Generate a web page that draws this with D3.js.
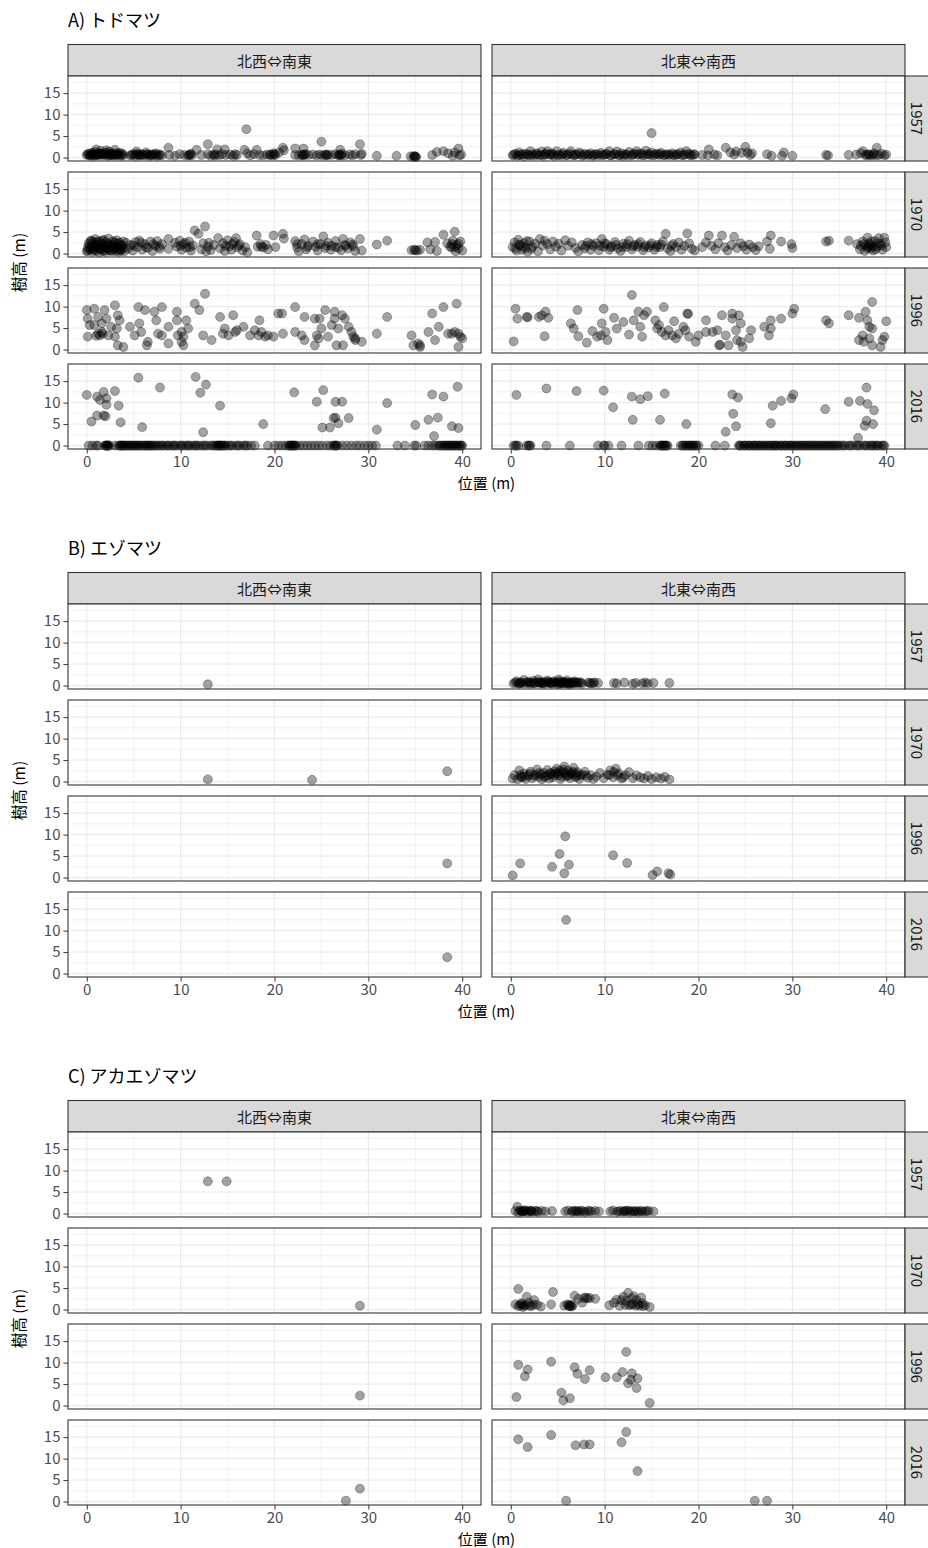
<!DOCTYPE html>
<html>
<head>
<meta charset="utf-8">
<script src="https://cdn.jsdelivr.net/npm/d3@7"></script>
<style>
  body { margin: 0; background: #fff; }
  svg { display: block; font-family: "Noto Sans CJK JP", "Noto Sans", sans-serif; }
  .axis text { fill: #4d4d4d; font-size: 15px; }
  .axis line { stroke: #333; }
</style>
</head>
<body>
<svg id="chart"></svg>
<script>
// facet labels
const speciesNames = ['A) トドマツ', 'B) エゾマツ', 'C) アカエゾマツ'];
const directions = ['北西⇔南東', '北東⇔南西'];
const years = ['1957', '1970', '1996', '2016'];
const xTicks = [0, 10, 20, 30, 40];
const yTicks = [0, 5, 10, 15];

// A) トドマツ  [位置, 樹高]
const todoNW1957 = [[0.0,0.6],[0.2,0.9],[0.3,0.5],[0.5,1.1],[0.6,0.7],[0.8,0.4],[0.9,1.3],[1.0,0.8],[1.1,0.5],[1.3,1.0],[1.4,0.6],[1.5,1.6],[1.7,0.8],[1.8,0.5],[2.0,1.1],[2.1,0.7],[2.3,0.4],[2.4,1.4],[2.5,0.9],[2.7,0.6],[2.9,1.0],[3.0,1.8],[3.1,0.5],[3.3,0.8],[3.5,0.6],[3.7,1.0],[3.9,0.5],[1.0,1.9],[2.1,1.7],
  [0.1,0.8],[0.4,0.6],[0.7,1.0],[0.9,0.6],[1.2,0.7],[1.6,1.0],[1.9,0.7],[2.2,1.0],[2.6,0.5],[2.8,0.8],[3.2,0.7],[3.4,1.1],[3.6,0.4],[3.8,0.8],[0.5,0.4],[1.4,0.9],[2.4,0.6],[3.0,0.6],
  [4.6,0.5],[4.9,0.8],[5.2,0.4],[5.4,0.9],[5.7,0.6],[5.9,0.8],[6.2,0.5],[6.5,0.7],[6.7,0.4],[7.0,0.8],[7.3,0.6],[7.5,0.4],[7.8,0.7],[8.0,0.5],[5.3,1.4],[6.3,1.2],[7.4,1.0],
  [4.8,0.6],[5.1,0.7],[5.6,0.5],[6.0,0.6],[6.4,0.8],[6.9,0.5],[7.2,0.7],[7.7,0.6],[5.5,0.7],[6.8,0.6],
  [8.7,2.3],[8.8,0.6],[9.4,0.4],[9.9,0.8],[10.4,0.6],[10.8,0.5],[11.0,0.7],[11.1,0.9],[10.9,0.6],[11.2,0.5],[11.7,1.8],[12.2,0.6],[12.9,3.1],[12.9,0.8],[13.2,0.4],[13.5,0.7],[13.6,0.5],[13.8,0.7],[13.9,1.9],[14.1,0.5],[14.4,0.8],[14.7,1.9],[14.8,0.6],[15.3,0.7],[15.6,0.4],[15.8,0.8],[16.0,0.6],[16.8,1.8],[17.0,6.6],[17.1,1.0],[17.4,0.5],[17.8,0.8],[18.1,1.8],[18.4,0.6],[18.8,0.5],[19.2,0.7],[19.5,0.6],[19.6,0.7],[19.8,0.5],[20.0,0.8],[20.1,0.6],[19.9,1.0],[20.5,1.2],[20.9,2.3],[21.0,1.7],
  [22.2,2.1],[22.2,0.6],[22.6,0.5],[22.9,0.7],[23.0,0.6],[23.1,2.1],[23.1,0.5],[23.2,0.7],[23.3,0.8],[23.6,0.6],[24.1,0.7],[24.5,0.5],[24.8,0.7],[25.0,3.7],[25.1,0.5],[25.4,0.7],[25.5,0.6],[25.6,0.5],[25.7,0.7],[26.1,0.6],[26.5,0.8],[26.8,0.5],[26.9,0.7],[27.0,1.8],[27.0,0.6],[27.1,0.5],[27.2,0.9],[27.5,0.5],[28.0,0.7],[28.3,0.5],[28.6,0.8],[29.1,3.1],[29.2,0.6],[29.3,0.9],[30.9,0.4],[33.0,0.4],
  [34.5,0.3],[34.8,0.2],[34.9,0.3],[35.0,0.3],[35.0,0.2],[35.1,0.1],[36.8,0.6],[37.3,1.3],[38.0,1.5],[38.5,1.0],[39.0,0.4],[39.2,1.2],[39.6,2.1],[39.7,0.5],[39.9,0.7]];
const todoNE1957 = [[0.2,0.5],[0.5,0.9],[0.7,0.4],[0.9,1.2],[1.1,0.6],[1.4,0.3],[1.6,0.9],[1.9,0.5],[2.1,1.5],[2.3,0.8],[2.6,0.5],[2.8,1.0],[3.0,0.6],[3.3,1.4],[3.5,0.4],[3.7,0.9],[3.9,1.5],[4.2,0.6],[4.4,1.0],[4.6,0.4],[4.9,1.5],[5.1,0.7],[5.4,0.5],[5.6,1.1],[5.9,0.6],[6.2,0.9],[6.4,1.5],[6.7,0.5],[7.0,0.8],[7.3,1.2],[7.6,0.4],[7.9,0.9],[8.2,0.6],[8.5,1.0],[8.7,0.4],[9.0,0.8],[9.3,0.5],[9.6,1.1],[9.9,0.6],[10.2,0.9],[10.5,1.5],[10.7,0.5],[11.0,0.8],[11.3,1.4],[11.5,0.6],[11.8,1.0],[12.0,0.4],[12.3,0.8],[12.6,1.3],[12.9,0.5],[13.1,0.9],[13.4,1.5],[13.6,0.6],[13.9,1.0],[14.2,0.5],[14.4,1.6],[14.7,0.8],[15.0,5.7],[15.0,1.2],[15.2,0.5],[15.5,0.9],[15.8,0.6],[16.0,1.1],[16.3,0.5],[16.6,0.8],[16.9,0.6],[17.2,1.0],[17.5,0.5],[17.8,0.8],[18.1,1.2],[18.4,0.6],[18.7,1.5],[19.0,0.9],[19.3,0.5],[19.6,0.7],
  [0.3,0.7],[0.8,0.6],[1.3,0.8],[1.8,0.7],[2.2,0.5],[2.7,0.8],[3.2,0.6],[3.6,0.7],[4.1,0.8],[4.5,0.7],[5.0,0.5],[5.5,0.8],[6.0,0.5],[6.5,0.7],[6.9,0.6],[7.4,0.8],[7.8,0.6],[8.3,0.7],[8.8,0.6],[9.2,0.8],[9.7,0.6],[10.1,0.7],[10.6,0.5],[11.1,0.7],[11.6,0.5],[12.1,0.7],[12.5,0.5],[13.0,0.7],[13.5,0.8],[14.0,0.6],[14.5,0.7],[14.9,0.6],[15.4,0.7],[15.9,0.8],[16.4,0.6],[16.8,0.7],[17.3,0.6],[17.7,0.7],[18.2,0.5],[18.6,0.7],[19.1,0.6],[19.5,0.8],
  [20.4,0.6],[21.0,0.5],[21.1,1.9],[21.7,0.7],[22.0,0.5],[22.9,2.3],[23.4,1.2],[23.8,0.7],[24.0,1.4],[24.6,1.1],[25.0,2.5],[25.2,1.2],[25.5,0.6],[25.7,1.0],[27.3,0.8],[27.8,0.4],[28.9,0.4],[29.1,1.2],[30.0,0.4],[33.6,0.6],[33.8,0.5],
  [36.0,0.6],[36.8,0.7],[37.3,1.0],[37.5,1.5],[37.8,0.5],[37.9,0.7],[38.1,0.8],[38.2,0.6],[38.4,0.5],[38.6,0.7],[38.7,1.0],[38.9,0.5],[39.0,2.3],[39.2,0.6],[39.5,0.9],[39.8,0.5],[40.0,0.7]];
const todoNW1970 = [[0.0,0.5],[0.1,1.4],[0.2,2.4],[0.3,0.9],[0.4,3.0],[0.5,1.8],[0.6,0.4],[0.7,2.7],[0.8,1.1],[0.9,3.4],[1.0,0.6],[1.1,2.0],[1.2,1.4],[1.3,0.3],[1.4,2.9],[1.5,1.0],[1.6,2.3],[1.7,0.6],[1.8,3.2],[1.9,1.6],[2.0,0.4],[2.1,2.6],[2.2,1.2],[2.3,3.5],[2.4,0.8],[2.5,2.0],[2.6,1.5],[2.7,0.5],[2.8,2.9],[2.9,1.0],[3.0,2.2],[3.1,0.6],[3.2,3.1],[3.3,1.6],[3.4,0.4],[3.5,2.5],[3.6,1.1],[3.7,0.7],[3.8,1.9],[3.9,2.8],[4.0,0.5],
  [0.1,0.7],[0.3,1.9],[0.5,2.9],[0.7,0.9],[0.9,1.7],[1.1,2.8],[1.3,1.1],[1.5,2.2],[1.7,3.0],[1.9,0.8],[2.1,1.3],[2.3,2.2],[2.5,0.7],[2.7,1.8],[2.9,2.6],[3.1,1.4],[3.3,2.4],[3.5,0.8],[3.7,1.9],[3.9,1.2],[0.4,1.2],[1.0,2.3],[2.0,1.8],[3.0,1.2],
  [4.4,1.2],[4.7,2.0],[4.9,0.7],[5.2,2.7],[5.4,1.5],[5.6,3.0],[5.9,0.9],[6.2,2.2],[6.5,1.3],[6.8,2.8],[7.0,0.6],[7.3,1.8],[7.5,2.9],[7.8,1.1],[8.0,2.2],[4.2,2.5],[5.0,1.8],[5.8,2.5],[6.3,1.5],[7.1,2.2],[7.7,1.6],
  [8.7,3.4],[8.7,1.1],[9.4,2.5],[9.6,1.6],[9.9,3.0],[10.1,0.9],[10.3,2.2],[10.6,1.4],[10.9,2.8],[11.1,0.7],[11.3,1.9],[10.0,1.8],[10.5,2.5],[11.0,1.5],[11.5,5.4],[11.9,4.6],[12.2,1.0],[12.4,2.4],[12.6,6.3],[12.7,0.5],[12.9,1.6],[13.2,0.8],[13.5,2.0],[13.0,2.5],[14.0,3.6],[14.2,1.2],[14.5,2.4],[14.7,0.6],[15.0,3.1],[15.2,1.7],[15.4,0.9],[15.7,2.7],[15.9,3.6],[16.0,1.4],[16.3,2.2],[16.6,0.7],[16.9,1.5],[17.1,0.3],[14.8,1.8],[15.5,2.2],[16.2,1.8],
  [18.1,4.2],[18.2,1.6],[18.5,2.2],[18.6,1.6],[18.8,1.4],[19.1,2.0],[19.3,1.0],[19.9,4.2],[20.1,1.5],[20.9,4.6],[21.0,3.5],[22.2,2.9],[22.4,1.4],[22.4,2.2],[22.6,0.5],[22.9,2.2],[23.2,3.3],[23.4,1.0],[23.5,1.5],[23.6,1.8],[24.1,2.8],[24.4,1.6],[24.6,0.7],[24.6,2.2],[24.9,2.2],[25.2,4.0],[25.4,1.3],[25.5,1.8],[25.7,2.5],[26.0,0.9],[26.1,1.8],[26.5,2.9],[26.5,1.5],[26.8,1.4],[27.1,0.8],[27.3,3.4],[27.5,2.0],[27.6,1.8],[27.8,1.2],[28.1,2.6],[28.3,2.1],[28.4,1.7],[28.6,0.6],[29.1,3.4],[29.3,0.7],[30.9,2.1],[32.0,3.0],
  [34.6,0.8],[34.9,0.9],[35.0,0.8],[35.2,0.7],[35.5,0.9],[36.3,2.6],[36.6,1.0],[37.1,2.7],[37.3,0.6],[38.0,4.4],[38.4,2.4],[38.7,1.6],[38.9,1.4],[39.0,3.0],[39.2,5.1],[39.2,1.5],[39.4,2.0],[39.6,1.2],[39.6,2.3],[39.8,2.8],[40.0,0.7],[39.3,0.5],[38.9,2.2]];
const todoNE1970 = [[0.2,1.5],[0.4,2.6],[0.6,0.7],[0.8,3.2],[1.0,1.9],[1.2,0.9],[1.4,2.4],[1.6,1.3],[1.8,0.4],[2.0,2.8],[2.3,1.6],[2.6,2.3],[2.9,0.5],[3.1,3.4],[3.4,1.9],[3.6,3.0],[3.9,2.2],[4.2,1.0],[4.5,2.8],[4.8,1.6],[5.1,2.3],[5.4,0.7],[5.8,3.1],[6.1,1.8],[6.5,2.6],[6.9,1.3],[7.2,0.5],[7.6,2.0],[7.9,1.2],[8.2,2.6],[8.5,0.9],[8.8,1.8],[9.1,2.4],[9.4,0.8],[9.7,3.4],[9.9,1.6],[10.2,2.2],[10.5,0.9],[10.8,1.7],[11.1,2.7],[11.4,1.2],[11.7,0.6],[12.0,2.3],[12.3,1.5],[12.6,3.0],[12.9,1.0],[13.2,2.0],[13.5,1.6],[13.8,2.7],[14.1,0.8],[14.4,1.9],[14.7,1.4],[15.0,2.4],[15.3,0.9],[15.6,2.0],[15.9,1.5],[16.2,2.8],[16.5,4.6],[16.7,1.2],[17.0,0.6],[17.3,2.2],[17.6,1.5],[17.9,2.6],[18.2,0.9],[18.5,1.8],[18.8,4.7],[19.0,2.4],[19.3,1.1],[19.6,0.7],
  [0.5,1.2],[0.9,2.1],[1.3,1.6],[1.7,2.9],[2.2,1.1],[8.0,1.8],[8.6,2.2],[9.5,1.8],[10.0,2.4],[10.6,1.5],[11.2,2.0],[11.9,1.5],[12.4,2.2],[13.0,1.7],[13.6,2.2],[14.2,1.5],[14.9,1.9],[15.5,1.5],[16.0,2.1],[17.1,1.8],
  [20.4,1.5],[20.8,2.6],[21.1,4.2],[21.4,1.8],[21.8,1.0],[22.1,2.4],[22.5,4.2],[22.8,1.5],[23.1,0.7],[23.5,2.0],[23.8,3.9],[24.1,1.3],[24.5,2.4],[24.8,1.7],[25.1,0.9],[25.4,2.1],[25.8,1.5],[26.1,0.8],[26.4,1.7],[27.3,2.8],[27.7,4.2],[27.6,1.1],[28.8,2.8],[29.9,2.2],[30.0,1.3],[33.6,2.8],[33.9,3.0],
  [36.0,3.0],[36.9,2.2],[37.2,1.0],[37.5,2.8],[37.6,2.2],[37.7,0.6],[37.9,1.8],[38.0,3.7],[38.0,1.2],[38.2,2.4],[38.3,2.0],[38.4,1.2],[38.4,2.8],[38.6,0.7],[38.6,1.7],[38.8,2.9],[38.9,1.0],[39.0,1.6],[39.1,2.4],[39.2,3.6],[39.4,2.2],[39.5,1.8],[39.6,0.9],[39.8,3.7],[40.0,1.5],[39.9,2.6],[38.1,1.5],[37.3,1.8]];
const todoNW1996 = [[0.0,9.2],[0.1,7.2],[0.8,9.5],[1.9,9.2],[3.0,10.3],[3.3,8.0],[3.5,6.8],[0.3,5.7],[1.2,7.6],[2.1,7.2],[1.6,4.1],[1.2,3.7],[0.1,3.0],[2.3,3.3],[3.0,3.0],[3.3,1.0],[3.9,0.6],[3.2,4.9],[2.6,5.3],[1.6,6.1],[0.8,5.7],[1.4,3.3],[1.7,3.7],[1.0,3.2],
  [4.6,5.3],[5.5,9.9],[6.2,9.2],[7.2,8.8],[8.0,9.9],[7.4,6.8],[5.6,6.1],[5.8,4.1],[5.1,3.3],[6.5,1.8],[6.4,1.0],[7.6,3.7],[8.0,3.3],[8.7,5.3],[8.7,1.4],[9.6,8.8],[9.6,6.8],[10.6,6.8],[10.8,4.9],[10.1,4.1],[10.3,3.0],[10.1,1.8],[10.3,1.0],[9.7,3.3],[11.5,10.7],[12.0,9.2],[12.6,13.0],[12.4,3.3],[13.3,2.2],
  [14.2,7.6],[14.7,4.9],[14.5,3.7],[15.1,3.3],[15.6,8.0],[15.8,4.1],[16.0,4.5],[16.7,5.3],[17.4,3.3],[17.9,4.5],[18.3,3.3],[18.4,6.8],[18.6,4.1],[19.0,3.0],[19.3,3.3],[19.9,3.0],[20.4,8.4],[20.8,8.4],[20.9,3.7],[22.2,9.9],[22.2,4.1],[22.9,3.3],[23.2,7.6],[23.2,2.2],[24.3,7.2],[24.3,1.0],[24.5,3.3],[24.8,7.2],[24.7,2.6],[25.0,4.9],[25.4,9.2],[25.7,3.0],[26.1,5.7],[26.4,8.8],[26.4,7.2],[26.8,4.9],[27.2,8.0],[27.5,7.2],[26.6,1.0],[27.3,1.0],[27.9,5.3],[28.2,4.1],[28.4,3.0],[28.6,2.6],[28.6,2.2],[29.3,1.8],
  [30.9,3.7],[32.0,7.6],[34.6,3.3],[34.8,1.0],[35.3,1.4],[35.5,1.0],[35.5,0.6],[36.4,4.1],[36.8,8.4],[37.1,2.2],[37.5,5.3],[38.0,9.9],[38.5,3.7],[38.9,3.7],[39.4,10.7],[39.2,4.1],[39.6,3.7],[39.8,3.0],[40.0,2.6],[39.6,0.6]];
const todoNE1996 = [[0.5,9.5],[0.7,7.2],[0.3,1.9],[1.7,7.6],[1.8,7.5],[3.0,7.6],[3.3,8.0],[3.7,8.8],[4.0,7.4],[3.6,3.1],[6.4,6.1],[6.7,4.9],[7.1,9.2],[7.2,3.1],[8.1,1.6],[8.7,4.3],[9.2,3.0],[9.6,3.3],[9.7,6.1],[9.9,9.5],[10.1,4.1],[10.3,2.2],[11.0,7.4],[11.3,4.9],[12.0,6.4],[12.6,3.5],[12.9,12.7],[13.1,6.8],[13.6,8.8],[13.8,5.3],[14.0,3.0],[14.2,8.0],[14.5,8.8],
  [15.4,6.8],[15.6,4.9],[15.8,5.7],[16.3,9.9],[16.1,4.1],[16.5,3.3],[16.8,4.5],[17.4,6.6],[17.2,3.3],[17.6,2.6],[17.9,3.7],[18.4,5.3],[18.6,4.5],[18.8,8.4],[18.9,8.3],[19.0,3.0],[19.7,1.8],[20.0,3.3],[20.8,6.8],[20.8,4.1],[21.5,4.1],[22.0,4.5],[22.2,1.0],[22.3,1.1],[22.5,8.0],[22.9,3.3],[23.2,1.0],[23.6,8.4],[23.6,7.2],[24.0,4.5],[24.3,8.0],[24.1,2.2],[24.5,1.8],[24.7,0.6],[24.5,6.1],[25.6,4.5],[25.4,2.6],
  [27.0,5.3],[27.7,6.8],[27.5,3.3],[27.7,4.9],[28.8,7.2],[30.0,8.4],[30.2,9.5],[33.6,6.8],[33.9,6.1],[36.0,8.0],[37.1,7.4],[38.5,11.1],[37.8,8.8],[38.0,6.8],[38.2,5.3],[38.5,4.9],[37.5,3.3],[37.1,2.2],[37.6,1.8],[38.5,1.0],[38.2,2.6],[39.4,0.6],[39.8,3.0],[40.0,6.6],[39.6,2.2]];
const todoNW2016 = [[0.0,11.8],[1.1,11.4],[1.4,10.6],[1.8,12.5],[2.1,11.0],[2.1,9.5],[3.0,12.7],[3.4,9.3],[3.6,5.4],[0.5,5.6],[1.1,7.0],[2.0,6.8],[1.8,7.0],[5.5,15.8],[5.9,4.3],[7.8,13.5],[11.6,16.0],[12.1,12.3],[12.7,14.2],[12.4,3.1],[14.2,9.3],[18.8,5.0],[22.1,12.4],[24.5,10.2],[25.2,12.9],[25.1,4.2],[25.9,4.2],[26.5,10.2],[27.2,10.2],[26.5,6.5],[26.3,6.4],[26.8,5.2],[27.9,6.4],[30.9,3.7],[32.0,9.9],[35.0,4.8],[36.4,6.0],[36.8,11.9],[37.4,6.5],[37.0,2.2],[38.0,11.4],[38.9,4.5],[39.6,4.1],[39.5,13.7]];
// positions of trees with height 0 in 2016
const todoNW2016zero = [0.2,0.6,1.0,1.2,1.9,2.0,2.1,2.15,2.2,2.25,2.3,2.4,3.0,3.4,3.5,3.6,3.7,3.8,3.9,4.0,4.1,4.3,4.4,4.5,4.7,4.8,4.9,5.1,5.2,5.3,5.5,5.6,5.7,5.9,6.1,6.2,6.3,6.5,6.6,6.7,6.8,7.0,7.1,7.3,7.5,7.6,7.9,8.0,8.2,8.5,8.6,8.8,9.1,9.3,9.4,9.7,10.0,10.1,10.3,10.6,10.8,10.9,11.2,11.5,11.6,11.8,12.1,12.4,12.6,12.8,13.2,13.4,13.6,13.8,13.9,14.0,14.1,14.2,14.3,14.4,14.6,14.7,14.8,15.1,15.3,15.5,15.9,16.1,16.3,16.7,16.9,17.1,17.5,17.9,
  19.3,20.0,20.4,20.8,21.2,21.5,21.6,21.7,21.8,21.9,22.0,22.1,22.2,22.3,22.7,23.1,23.5,23.9,24.3,24.7,25.1,25.6,26.0,26.3,26.4,26.5,26.6,26.7,27.2,27.7,28.2,28.7,29.1,29.6,30.0,30.4,30.8,33.1,33.9,34.9,35.1,36.0,36.4,36.8,37.1,37.4,37.6,37.7,37.9,38.1,38.2,38.3,38.5,38.6,38.7,38.9,39.0,39.1,39.3,39.4,39.5,39.7,39.8,39.9,40.0];
const todoNE2016 = [[0.6,11.8],[3.8,13.3],[7.0,12.7],[9.9,12.8],[10.9,8.9],[12.9,11.4],[13.8,10.8],[14.6,11.5],[16.4,12.1],[13.0,6.0],[15.9,6.0],[18.7,5.0],[22.9,3.2],[23.6,11.9],[24.2,11.2],[23.7,7.4],[24.0,4.5],[27.7,5.2],[27.9,9.3],[28.8,10.4],[29.9,11.0],[30.1,11.9],[33.5,8.5],[36.0,10.2],[37.2,10.4],[37.9,13.5],[38.0,9.7],[38.7,8.2],[37.9,5.8],[37.7,4.6],[38.6,5.0],[37.0,1.8]];
const todoNE2016zero = [0.3,0.5,0.6,0.8,1.7,1.9,2.0,2.1,3.8,6.3,9.3,9.9,10.0,10.4,11.8,13.6,14.7,15.1,15.5,15.9,16.0,16.1,16.2,16.3,16.4,16.5,16.6,16.7,18.1,18.3,18.4,18.6,18.7,18.9,19.0,19.1,19.3,19.4,19.5,19.7,19.8,20.0,21.8,22.8,
  24.3,24.4,24.5,24.8,24.9,25.0,25.3,25.4,25.5,25.8,25.9,26.0,26.2,26.4,26.5,26.7,26.9,27.0,27.2,27.4,27.5,27.7,27.9,28.0,28.2,28.3,28.4,28.7,28.8,28.9,29.2,29.3,29.4,29.7,29.8,29.9,30.1,30.3,30.4,30.6,30.8,30.9,31.1,31.3,31.4,31.6,31.8,31.9,32.1,32.3,32.4,32.6,32.8,32.9,33.1,33.3,33.4,33.6,33.8,33.9,34.1,34.3,34.4,34.6,34.8,34.9,35.2,35.4,35.6,36.0,36.2,36.4,36.8,37.0,37.2,37.6,37.8,38.0,38.3,38.5,38.6,38.9,39.0,39.2,39.5,39.7,39.8];

// B) エゾマツ
const ezoNW1957 = [[12.9,0.3]];
const ezoNW1970 = [[12.9,0.5],[24.0,0.4],[38.4,2.4]];
const ezoNW1996 = [[38.4,3.3]];
const ezoNW2016 = [[38.4,3.8]];
const ezoNE1957 = [[0.3,0.5],[0.6,1.0],[0.9,0.4],[1.1,0.8],[1.4,1.3],[1.6,0.5],[1.9,0.9],[2.1,0.4],[2.4,1.1],[2.6,0.6],[2.9,1.4],[3.1,0.5],[3.4,0.9],[3.6,0.4],[3.9,1.2],[4.1,0.7],[4.4,0.4],[4.6,1.0],[4.9,0.6],[5.1,1.4],[5.3,0.4],[5.6,0.9],[5.8,0.5],[6.0,1.2],[6.3,0.7],[6.5,0.4],[6.8,1.0],[7.0,0.6],[7.3,0.8],[7.6,0.4],[8.3,0.7],[8.6,0.5],[8.9,0.7],[9.3,0.6],[11.0,0.6],[11.3,0.5],[12.1,0.7],[13.0,0.4],[13.3,0.6],[14.0,0.5],[14.3,0.7],[14.6,0.5],[15.2,0.6],[16.9,0.6],[6.2,0.3],[5.0,0.3],[3.0,0.8],[1.0,0.5],[4.0,0.9],[6.7,0.6],[2.0,0.7],[5.5,0.6],
  [0.5,0.7],[0.8,0.6],[1.2,0.6],[1.7,0.7],[2.2,0.6],[2.5,0.5],[2.7,0.8],[3.2,0.7],[3.3,0.5],[3.5,0.6],[3.8,0.7],[4.2,0.5],[4.3,0.6],[4.5,0.8],[4.8,0.7],[5.2,0.7],[5.2,1.0],[5.4,0.5],[5.7,0.7],[5.9,0.8],[6.0,0.5],[6.1,0.6],[6.4,0.6],[6.6,0.8],[6.9,0.7],[7.2,0.6],[7.5,0.7],[8.4,0.6],[8.8,0.6]];
const ezoNE1970 = [[0.2,0.7],[0.4,1.5],[0.7,0.5],[0.9,2.6],[1.1,1.0],[1.4,1.9],[1.6,0.6],[1.9,1.4],[2.1,2.3],[2.3,0.8],[2.6,1.6],[2.8,2.8],[3.0,1.1],[3.3,0.5],[3.5,2.0],[3.7,1.3],[3.9,2.7],[4.1,0.7],[4.3,1.8],[4.5,1.0],[4.7,2.4],[4.9,3.0],[5.1,1.5],[5.3,0.6],[5.5,2.2],[5.7,3.5],[5.9,1.2],[6.1,2.6],[6.3,0.8],[6.5,1.8],[6.7,3.2],[6.9,1.0],[7.1,2.2],[7.3,0.6],[7.6,1.6],[7.9,2.3],[8.2,0.9],[8.5,1.5],[8.8,0.6],[9.1,1.2],[9.5,2.0],[9.9,0.8],[10.3,1.6],[10.6,2.6],[10.9,1.0],[11.2,3.0],[11.5,1.9],[11.8,0.7],[12.2,1.5],[12.6,2.2],[13.0,0.8],[13.4,1.4],[13.8,1.0],[14.2,0.7],[14.6,1.3],[15.0,0.6],[15.5,1.0],[16.0,0.7],[16.4,1.1],[16.9,0.5],[5.0,2.0],[6.0,1.5],[4.0,1.5],[3.0,2.0],[7.0,1.3],
  [1.0,1.5],[1.2,1.1],[1.5,1.2],[2.0,1.8],[2.5,1.3],[3.2,1.7],[3.6,1.0],[4.2,2.0],[4.6,1.5],[4.8,1.9],[5.2,2.5],[5.4,1.2],[5.6,2.8],[5.8,2.0],[6.2,1.4],[6.4,2.0],[6.6,2.3],[7.0,1.8],[7.4,1.4],[8.0,1.4],[10.5,1.5],[11.0,2.2],[11.4,1.4],[12.0,1.0]];
const ezoNE1996 = [[0.2,0.5],[1.0,3.3],[4.4,2.5],[5.2,5.5],[5.8,9.6],[5.7,1.0],[6.2,3.0],[10.9,5.2],[12.4,3.4],[15.1,0.6],[15.6,1.4],[16.8,1.0],[17.0,0.7]];
const ezoNE2016 = [[5.9,12.5]];

// C) アカエゾマツ
const akaNW1957 = [[12.9,7.5],[14.9,7.5]];
const akaNW1970 = [[29.1,0.9]];
const akaNW1996 = [[29.1,2.3]];
const akaNW2016 = [[27.6,0.2],[29.1,3.0]];
const akaNE1957 = [[0.7,1.6],[0.5,0.6],[0.8,0.3],[1.0,0.7],[1.1,0.6],[1.2,0.4],[1.3,0.5],[1.4,0.6],[1.5,0.8],[1.6,0.6],[1.8,0.4],[2.0,0.7],[2.1,0.5],[2.2,0.6],[2.3,0.5],[2.6,0.6],[2.8,0.6],[2.9,0.4],[3.3,0.6],[3.7,0.5],[4.4,0.6],[5.8,0.5],[6.1,0.7],[6.5,0.4],[6.6,0.6],[6.8,0.6],[7.0,0.6],[7.1,0.5],[7.3,0.5],[7.5,0.7],[7.7,0.5],[7.9,0.4],[8.2,0.6],[8.4,0.6],[8.6,0.5],[9.0,0.6],[9.4,0.5],
  [10.6,0.5],[10.9,0.7],[11.3,0.4],[11.5,0.5],[11.7,0.6],[12.0,0.5],[12.1,0.5],[12.2,0.6],[12.4,0.7],[12.6,0.6],[12.7,0.4],[13.0,0.6],[13.1,0.5],[13.3,0.5],[13.5,0.6],[13.6,0.4],[13.9,0.6],[14.0,0.5],[14.3,0.5],[14.5,0.6],[14.7,0.6],[15.2,0.5]];
const akaNE1970 = [[0.8,4.8],[4.5,4.1],[0.5,1.2],[0.8,0.8],[1.0,1.0],[1.1,1.5],[1.2,1.3],[1.3,0.6],[1.4,0.9],[1.6,1.0],[1.7,3.0],[1.9,1.6],[2.0,0.9],[2.2,0.8],[2.4,1.2],[2.5,2.2],[2.8,1.1],[3.2,0.7],[4.3,1.2],[5.7,0.9],[6.0,1.2],[6.2,1.1],[6.2,0.8],[6.3,0.8],[6.4,1.0],[6.5,0.7],[6.6,1.0],[6.8,3.2],[7.2,2.5],[7.6,1.6],[7.8,2.7],[8.0,2.8],[8.2,2.6],[8.4,2.7],[9.0,2.5],
  [10.5,1.0],[11.0,1.6],[11.3,2.3],[11.6,0.9],[11.8,2.2],[12.0,3.0],[12.2,1.1],[12.3,2.0],[12.5,3.9],[12.6,1.0],[12.8,1.2],[12.9,2.6],[13.0,1.2],[13.1,3.1],[13.3,0.9],[13.4,2.2],[13.6,1.3],[13.7,0.9],[13.9,2.8],[14.0,1.5],[14.1,0.8],[14.3,1.0],[14.8,0.6]];
const akaNE1996 = [[0.8,9.5],[1.8,8.4],[1.5,6.8],[0.6,2.0],[4.3,10.2],[5.4,3.0],[5.6,1.2],[6.3,1.7],[6.8,8.9],[7.1,7.4],[7.9,6.2],[8.4,8.2],[10.1,6.6],[11.3,6.6],[11.9,7.8],[12.3,12.5],[12.5,5.2],[12.9,7.5],[12.8,6.0],[13.4,4.1],[13.5,6.3],[14.8,0.6]];
const akaNE2016 = [[0.8,14.5],[1.8,12.7],[4.3,15.5],[5.9,0.2],[6.9,13.1],[7.8,13.3],[8.4,13.3],[11.8,13.8],[12.3,16.2],[13.5,7.1],[26.0,0.2],[27.3,0.2]];

const zeroRow = xs => xs.map(v => [v, 0]);

// [species][direction][year]
const panels = [
  [[todoNW1957, todoNW1970, todoNW1996, todoNW2016.concat(zeroRow(todoNW2016zero))],
   [todoNE1957, todoNE1970, todoNE1996, todoNE2016.concat(zeroRow(todoNE2016zero))]],
  [[ezoNW1957, ezoNW1970, ezoNW1996, ezoNW2016],
   [ezoNE1957, ezoNE1970, ezoNE1996, ezoNE2016]],
  [[akaNW1957, akaNW1970, akaNW1996, akaNW2016],
   [akaNE1957, akaNE1970, akaNE1996, akaNE2016]]
];

// layout
const W = 928, H = 1548;
const sectionH = 528;
const left = 68, stripTop = 44.5, stripH = 31.5;
const panelTop = 76, panelW = 413, panelH = 85, colGap = 11, rowStep = 96, sideStripW = 25;

const x = d3.scaleLinear().domain([-2, 42]).range([0, panelW]);
const y = d3.scaleLinear().domain([-0.8, 19]).range([panelH, 0]);
const xMinor = [5, 15, 25, 35];
const yMinor = [2.5, 7.5, 12.5, 17.5];

const svg = d3.select('#chart').attr('width', W).attr('height', H);

speciesNames.forEach((sp, si) => {
  const sec = svg.append('g').attr('transform', `translate(0,${si * sectionH})`);

  sec.append('text')
      .attr('x', left)
      .attr('y', 27)
      .style('font-size', '18px')
      .style('fill', '#000')
      .text(sp);

  directions.forEach((dir, di) => {
    const px = left + di * (panelW + colGap);

    // strip on top
    sec.append('rect')
        .attr('x', px).attr('y', stripTop)
        .attr('width', panelW).attr('height', stripH)
        .attr('fill', '#d9d9d9').attr('stroke', '#333').attr('stroke-width', 1.1);
    sec.append('text')
        .attr('x', px + panelW / 2).attr('y', stripTop + stripH / 2)
        .attr('text-anchor', 'middle').attr('dominant-baseline', 'central')
        .style('font-size', '15px').style('fill', '#1a1a1a')
        .text(dir);

    years.forEach((yr, yi) => {
      const py = panelTop + yi * rowStep;
      const p = sec.append('g').attr('transform', `translate(${px},${py})`);

      p.append('rect').attr('width', panelW).attr('height', panelH).attr('fill', '#fff');

      // gridlines
      p.selectAll('.gx-minor').data(xMinor).join('line')
          .attr('x1', d => x(d)).attr('x2', d => x(d)).attr('y1', 0).attr('y2', panelH)
          .attr('stroke', '#ebebeb').attr('stroke-width', 0.7);
      p.selectAll('.gy-minor').data(yMinor).join('line')
          .attr('y1', d => y(d)).attr('y2', d => y(d)).attr('x1', 0).attr('x2', panelW)
          .attr('stroke', '#ebebeb').attr('stroke-width', 0.7);
      p.selectAll('.gx').data(xTicks).join('line')
          .attr('x1', d => x(d)).attr('x2', d => x(d)).attr('y1', 0).attr('y2', panelH)
          .attr('stroke', '#ebebeb').attr('stroke-width', 1.2);
      p.selectAll('.gy').data(yTicks).join('line')
          .attr('y1', d => y(d)).attr('y2', d => y(d)).attr('x1', 0).attr('x2', panelW)
          .attr('stroke', '#ebebeb').attr('stroke-width', 1.2);

      // points
      p.selectAll('circle').data(panels[si][di][yi]).join('circle')
          .attr('cx', d => x(d[0]))
          .attr('cy', d => y(d[1]))
          .attr('r', 4.5)
          .attr('fill', '#000').attr('fill-opacity', 0.36)
          .attr('stroke', '#000').attr('stroke-opacity', 0.36).attr('stroke-width', 0.8);

      // border
      p.append('rect').attr('width', panelW).attr('height', panelH)
          .attr('fill', 'none').attr('stroke', '#333').attr('stroke-width', 1.1);

      // right strip with year
      if (di === 1) {
        p.append('rect')
            .attr('x', panelW).attr('y', 0)
            .attr('width', sideStripW).attr('height', panelH)
            .attr('fill', '#d9d9d9').attr('stroke', '#333').attr('stroke-width', 1.1);
        p.append('text')
            .attr('transform', `translate(${panelW + sideStripW / 2 - 0.5},${panelH / 2}) rotate(90)`)
            .attr('text-anchor', 'middle').attr('dominant-baseline', 'central')
            .style('font-size', '15px').style('fill', '#1a1a1a')
            .text(yr);
      }

      // y axis on left column
      if (di === 0) {
        p.append('g')
            .attr('class', 'axis')
            .call(d3.axisLeft(y).tickValues(yTicks).tickSize(4.5).tickPadding(3))
            .call(g => g.select('.domain').remove());
      }

      // x axis under the last row
      if (yi === years.length - 1) {
        p.append('g')
            .attr('class', 'axis')
            .attr('transform', `translate(0,${panelH})`)
            .call(d3.axisBottom(x).tickValues(xTicks).tickSize(4.5).tickPadding(3))
            .call(g => g.select('.domain').remove());
      }
    });
  });

  // axis titles
  const panelsBottom = panelTop + 3 * rowStep + panelH;
  sec.append('text')
      .attr('x', left + panelW + colGap / 2)
      .attr('y', panelsBottom + 40)
      .attr('text-anchor', 'middle')
      .style('font-size', '15px')
      .text('位置 (m)');
  sec.append('text')
      .attr('transform', `translate(18,${(panelTop + panelsBottom) / 2}) rotate(-90)`)
      .attr('text-anchor', 'middle')
      .attr('dominant-baseline', 'central')
      .style('font-size', '15.5px')
      .text('樹高 (m)');
});

// d3 axis sets its own font attrs on the group; let the css decide
svg.selectAll('.axis').attr('font-family', null).attr('font-size', null);
</script>
</body>
</html>
